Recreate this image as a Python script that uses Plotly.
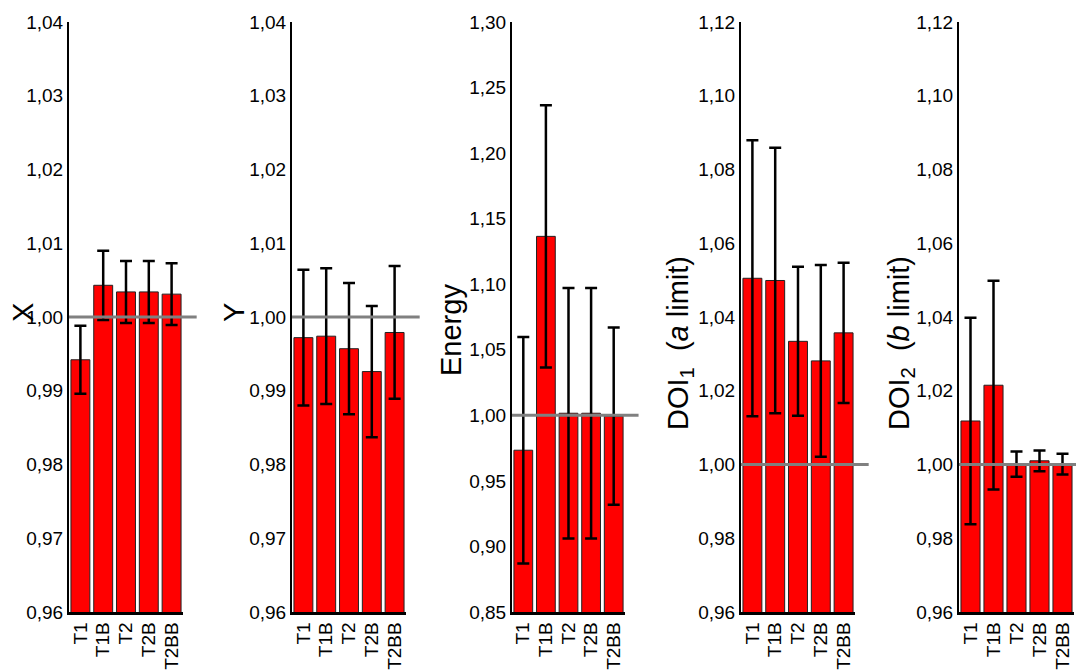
import plotly.graph_objects as go

# ----- DATA -----
categories = ["T1", "T1B", "T2", "T2B", "T2BB"]

x_mean = [0.9942, 1.0043, 1.0034, 1.0034, 1.0031]
x_err = [0.0046, 0.0047, 0.0042, 0.0042, 0.0042]

y_mean = [0.9972, 0.9974, 0.9957, 0.9926, 0.9979]
y_err = [0.0092, 0.0092, 0.0089, 0.0089, 0.0090]

energy_mean = [0.9734, 1.1365, 1.0016, 1.0016, 0.9994]
energy_err = [0.0864, 0.1000, 0.0955, 0.0955, 0.0676]

doi1_mean = [1.0505, 1.0499, 1.0334, 1.0281, 1.0357]
doi1_err = [0.0374, 0.0360, 0.0202, 0.0260, 0.0190]

doi2_mean = [1.0118, 1.0215, 1.0001, 1.0010, 1.0001]
doi2_err = [0.0280, 0.0283, 0.0034, 0.0028, 0.0028]

axis_titles = ["X", "Y", "Energy",
               "DOI<sub>1</sub>  (<i>a</i> limit)",
               "DOI<sub>2</sub>  (<i>b</i> limit)"]
y_ranges = [(0.96, 1.04), (0.96, 1.04), (0.85, 1.30), (0.96, 1.12), (0.96, 1.12)]
y_dticks = [0.01, 0.01, 0.05, 0.02, 0.02]

means = [x_mean, y_mean, energy_mean, doi1_mean, doi2_mean]
errs = [x_err, y_err, energy_err, doi1_err, doi2_err]

# ----- LAYOUT (pixels) -----
W, H = 1084, 670
TOP, BOTTOM = 14, 604
panel_px = [(61, 175), (284, 398), (504, 617), (733, 847), (951, 1066)]
title_px = [(15, 305), (226, 305), (443, 322), (672, 335), (893, 335)]
FONT = "Arial, Liberation Sans, sans-serif"

fig = go.Figure()
layout = {}

for i in range(5):
    n = i + 1
    xa = "x" if n == 1 else f"x{n}"
    ya = "y" if n == 1 else f"y{n}"
    x0, x1 = panel_px[i]

    fig.add_trace(go.Bar(
        x=categories,
        y=means[i],
        error_y=dict(type="data", array=errs[i], color="black",
                     thickness=2.5, width=6),
        marker=dict(color="#ff0000", line=dict(color="#222222", width=1)),
        xaxis=xa,
        yaxis=ya,
        showlegend=False,
    ))

    # reference line at 1.00
    fig.add_shape(
        type="line", xref=f"{xa} domain", yref=ya,
        x0=0, x1=1.12, y0=1, y1=1,
        line=dict(color="#808080", width=3),
        layer="above",
    )

    lo, hi = y_ranges[i]
    layout["xaxis" if n == 1 else f"xaxis{n}"] = dict(
        domain=[x0 / W, x1 / W], anchor=ya, type="category",
        tickmode="array", tickvals=categories, ticktext=categories,
        showline=True, linecolor="black", linewidth=2.5,
        ticks="", tickangle=-90, showgrid=False, zeroline=False,
        tickfont=dict(size=19, color="black", family=FONT),
    )
    layout["yaxis" if n == 1 else f"yaxis{n}"] = dict(
        domain=[0, 1], anchor=xa, range=[lo, hi], tick0=lo, dtick=y_dticks[i],
        tickformat=".2f", showline=True, linecolor="black", linewidth=2,
        ticks="", showgrid=False, zeroline=False,
        tickfont=dict(size=19, color="black", family=FONT),
    )

    tx, ty = title_px[i]
    fig.add_annotation(
        text=axis_titles[i], xref="paper", yref="paper",
        x=tx / W, y=1 - (ty - TOP) / (BOTTOM - TOP),
        textangle=-90, showarrow=False, xanchor="center", yanchor="middle",
        font=dict(size=29, color="black", family=FONT),
    )

fig.update_layout(
    **layout,
    width=W,
    height=H,
    margin=dict(l=0, r=0, t=TOP, b=H - BOTTOM),
    bargap=0.17,
    separators=", ",
    plot_bgcolor="white",
    paper_bgcolor="white",
    font=dict(family=FONT, color="black"),
)

fig.write_html("out.html")
